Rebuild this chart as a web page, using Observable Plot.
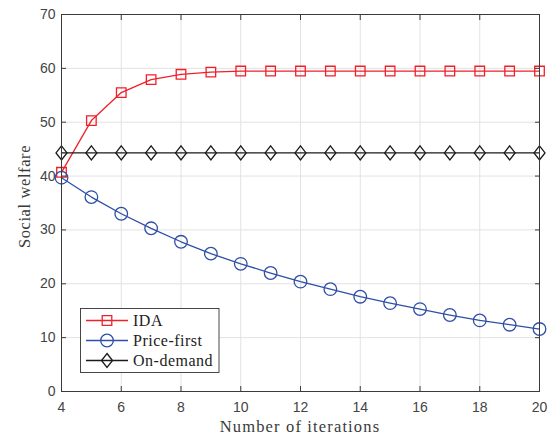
<!DOCTYPE html>
<html>
<head>
<meta charset="utf-8">
<script src="https://cdn.jsdelivr.net/npm/d3@7"></script>
<script src="https://cdn.jsdelivr.net/npm/@observablehq/plot@0.6"></script>
<style>
  html, body { margin: 0; padding: 0; background: white; }
  #chart { width: 552px; height: 439px; }
</style>
</head>
<body>
<div id="chart"></div>
<script>
const iterations = [4, 5, 6, 7, 8, 9, 10, 11, 12, 13, 14, 15, 16, 17, 18, 19, 20];
const idaValues = [40.7, 50.3, 55.5, 57.9, 58.9, 59.3, 59.5, 59.5, 59.5, 59.5, 59.5, 59.5, 59.5, 59.5, 59.5, 59.5, 59.5];
const priceFirstValues = [39.7, 36.1, 33.0, 30.3, 27.8, 25.6, 23.7, 22.0, 20.4, 19.0, 17.6, 16.4, 15.3, 14.2, 13.2, 12.4, 11.6];
const onDemandValues = [44.3, 44.3, 44.3, 44.3, 44.3, 44.3, 44.3, 44.3, 44.3, 44.3, 44.3, 44.3, 44.3, 44.3, 44.3, 44.3, 44.3];
const seriesNames = ["IDA", "Price-first", "On-demand"];
const xTicks = [4, 6, 8, 10, 12, 14, 16, 18, 20];
const yTicks = [0, 10, 20, 30, 40, 50, 60, 70];
const xLabel = "Number of iterations";
const yLabel = "Social welfare";

const colors = { "IDA": "#f0202a", "Price-first": "#2f4fa6", "On-demand": "#1a1a1a" };

const rows = (vals, name) => iterations.map((x, i) => ({ x, y: vals[i], s: name }));
const ida = rows(idaValues, "IDA");
const pf = rows(priceFirstValues, "Price-first");
const od = rows(onDemandValues, "On-demand");

// tall diamond like MATLAB
const tallDiamond = {
  draw(context, size) {
    const w = 5.5, h = 7;
    context.moveTo(0, -h);
    context.lineTo(w, 0);
    context.lineTo(0, h);
    context.lineTo(-w, 0);
    context.closePath();
  }
};

const axisColor = "#3a3a3a";
const tickTextColor = "#444";

const chart = Plot.plot({
  width: 552,
  height: 439,
  marginLeft: 61,
  marginRight: 13,
  marginTop: 14,
  marginBottom: 48,
  x: { domain: [4, 20] },
  y: { domain: [0, 70] },
  style: { fontFamily: "'Liberation Sans', Arial, sans-serif", fontSize: "14px", background: "white", overflow: "visible" },
  marks: [
    Plot.gridX(xTicks, { stroke: "#e2e2e2", strokeOpacity: 1, strokeWidth: 1 }),
    Plot.gridY(yTicks, { stroke: "#e2e2e2", strokeOpacity: 1, strokeWidth: 1 }),
    Plot.line(ida, { x: "x", y: "y", stroke: colors["IDA"], strokeWidth: 1.3 }),
    Plot.line(pf, { x: "x", y: "y", stroke: colors["Price-first"], strokeWidth: 1.3 }),
    Plot.line(od, { x: "x", y: "y", stroke: colors["On-demand"], strokeWidth: 1.3 }),
    Plot.dot(ida, { x: "x", y: "y", symbol: "square", r: 5.4, stroke: colors["IDA"], fill: "none", strokeWidth: 1.3 }),
    Plot.dot(pf, { x: "x", y: "y", symbol: "circle", r: 6.3, stroke: colors["Price-first"], fill: "none", strokeWidth: 1.3 }),
    Plot.dot(od, { x: "x", y: "y", symbol: tallDiamond, r: 6, stroke: colors["On-demand"], fill: "none", strokeWidth: 1.3 }),
    Plot.frame({ stroke: axisColor, strokeWidth: 1 }),
    Plot.axisX(xTicks, { anchor: "bottom", tickSize: 0, tickPadding: 11, label: null, fill: tickTextColor, fontSize: 14 }),
    Plot.axisY(yTicks, { anchor: "left", tickSize: 0, tickPadding: 6, label: null, fill: tickTextColor, fontSize: 14 }),
    Plot.axisX(xTicks, { anchor: "bottom", tickSize: -5, tickFormat: () => "", label: null, stroke: axisColor }),
    Plot.axisX(xTicks, { anchor: "top", tickSize: -5, tickFormat: () => "", label: null, stroke: axisColor }),
    Plot.axisY(yTicks, { anchor: "left", tickSize: -5, tickFormat: () => "", label: null, stroke: axisColor }),
    Plot.axisY(yTicks, { anchor: "right", tickSize: -5, tickFormat: () => "", label: null, stroke: axisColor })
  ]
});

document.getElementById("chart").appendChild(chart);

const svg = d3.select(chart);
const serif = "'Liberation Serif', 'DejaVu Serif', serif";

svg.append("text")
  .attr("x", 300).attr("y", 431.5)
  .style("text-anchor", "middle")
  .style("font-family", serif).style("font-size", "16.5px").style("letter-spacing", "1.15px")
  .attr("fill", "#3a3a3a")
  .text(xLabel);

svg.append("text")
  .attr("transform", "translate(29.5,196.5) rotate(-90)")
  .style("text-anchor", "middle")
  .style("font-family", serif).style("font-size", "16.5px").style("letter-spacing", "0.6px")
  .attr("fill", "#3a3a3a")
  .text(yLabel);

// legend
const lg = svg.append("g");
lg.append("rect").attr("x", 80.5).attr("y", 308.5).attr("width", 138.5).attr("height", 64)
  .attr("fill", "white").attr("stroke", "#333").attr("stroke-width", 0.9);
seriesNames.forEach((name, i) => {
  const cy = 320.5 + i * 20;
  lg.append("line").attr("x1", 86).attr("x2", 128).attr("y1", cy).attr("y2", cy)
    .attr("stroke", colors[name]).attr("stroke-width", 1.3);
  let path;
  if (name === "IDA") path = d3.symbol(d3.symbolSquare, 5.4 * 5.4 * Math.PI)();
  else if (name === "Price-first") path = d3.symbol(d3.symbolCircle, 6.3 * 6.3 * Math.PI)();
  else path = d3.symbol(tallDiamond, 1)();
  lg.append("path").attr("d", path).attr("transform", `translate(107,${cy})`)
    .attr("fill", "none").attr("stroke", colors[name]).attr("stroke-width", 1.3);
  lg.append("text").attr("x", 133).attr("y", cy).attr("dy", "0.35em")
    .style("text-anchor", "start")
    .style("font-family", serif).style("font-size", "16px").style("letter-spacing", "0.5px")
    .attr("fill", "#222")
    .text(name);
});
</script>
</body>
</html>
